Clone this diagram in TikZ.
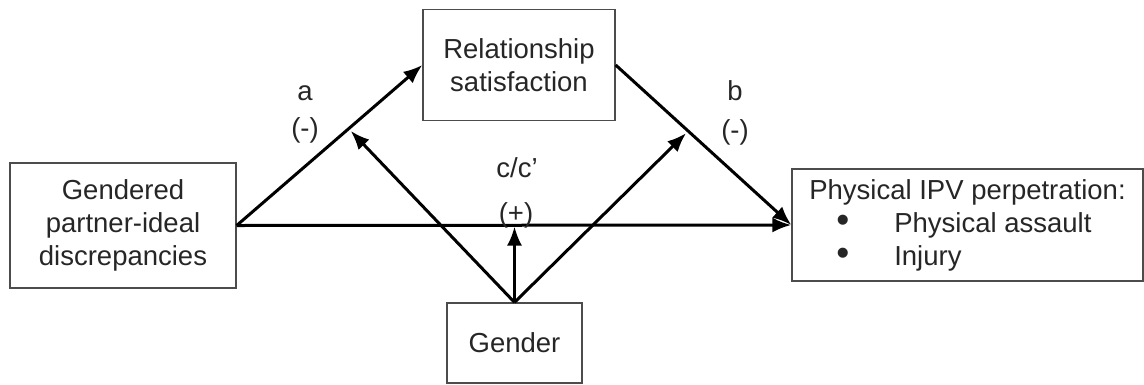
\documentclass[tikz,border=0pt]{standalone}
\usepackage{fontspec}
\setmainfont{Liberation Sans}
\usetikzlibrary{arrows.meta}
\begin{document}
\begin{tikzpicture}[x=1pt, y=-1pt, every node/.style={font=\fontsize{27.5}{33}\selectfont, text=black!85}]
  \tikzstyle{box} = [draw=black!70, line width=1.3pt, align=center, inner sep=0pt]
  \tikzstyle{link} = [->, >={Latex[length=19pt, width=15pt]}, line width=3pt]
  \useasboundingbox (0,0) rectangle (1144,384);
  \node[box, minimum width=226pt, minimum height=125pt] (disc) at (123, 225.5) {Gendered\\partner-ideal\\discrepancies};
  \node[box, minimum width=192pt, minimum height=111pt] (sat) at (519, 65) {Relationship\\satisfaction};
  \node[box, align=left, minimum width=351pt, minimum height=112pt] (ipv) at (967.5, 225)
    {Physical IPV perpetration:\\
     \hspace*{27pt}\makebox[58pt][l]{\scalebox{1.35}{\textbullet}}Physical assault\\
     \hspace*{27pt}\makebox[58pt][l]{\scalebox{1.35}{\textbullet}}Injury};
  \node[box, minimum width=135pt, minimum height=80pt] (gen) at (514.5, 343) {Gender};
  \draw[link] (disc.east) -- coordinate[pos=0.603] (ma) (sat.west);
  \draw[link] (sat.east) -- coordinate[pos=0.413] (mb) (ipv.west);
  \draw[link] (disc.east) -- (ipv.west);
  \draw[link, shorten >=3pt] (gen.north) -- (ma);
  \draw[link, shorten >=3pt] (gen.north) -- (mb);
  \draw[link, shorten >=1pt] (gen.north) -- (gen.north |- disc.east);
  \node[anchor=base] (la) at (305, 100) {a};
  \node[anchor=base] (lasign) at (305, 137) {(-)};
  \node[anchor=base] (lb) at (735, 100) {b};
  \node[anchor=base] (lbsign) at (735, 139) {(-)};
  \node[anchor=base] (lc) at (517, 177) {c/c’};
  \node[anchor=base] (lcsign) at (516, 222) {(+)};
\end{tikzpicture}
\end{document}
